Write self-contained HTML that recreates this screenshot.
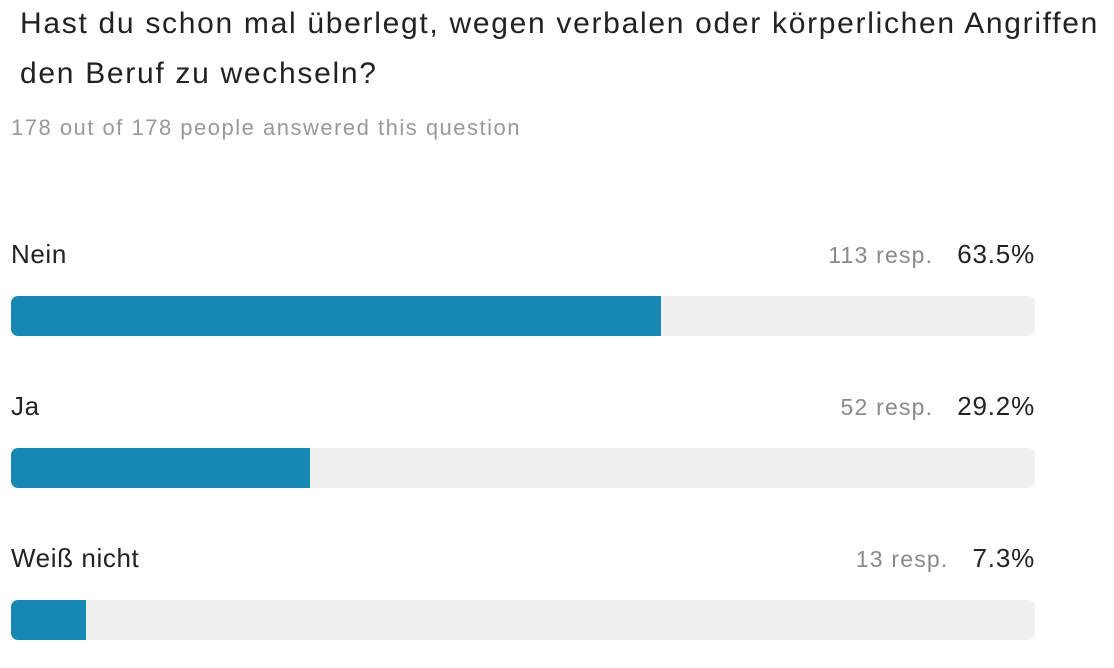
<!DOCTYPE html>
<html><head><meta charset="utf-8"><style>
body{margin:0;width:1114px;height:668px;background:#fff;font-family:"Liberation Sans",sans-serif;position:relative;overflow:hidden;color:#2b2b2b}
.t{position:absolute;left:20px;top:-1px;font-size:30px;letter-spacing:1.7px;line-height:50px;color:#222;white-space:nowrap}
.s{position:absolute;left:11px;top:115px;font-size:22px;letter-spacing:1.5px;color:#999;white-space:nowrap}
.l{position:absolute;left:11px;font-size:26px;letter-spacing:0.6px;color:#222}
.r{position:absolute;right:79px;font-size:26px;letter-spacing:0.8px;color:#222;text-align:right;white-space:nowrap}
.r span{color:#8a8a8a;font-size:23px;letter-spacing:1.2px;margin-right:24px}
.b{position:absolute;left:11px;width:1024px;height:40px;background:#f0f0f0;border-radius:7px;overflow:hidden}
.b div{height:100%;background:#1788b1}
</style></head><body>
<div class="t">Hast du schon mal überlegt, wegen verbalen oder körperlichen Angriffen<br>den Beruf zu wechseln?</div>
<div class="s">178 out of 178 people answered this question</div>
<div class="l" style="top:239px">Nein</div>
<div class="r" style="top:239px"><span>113 resp.</span>63.5%</div>
<div class="b" style="top:296px"><div style="width:650px"></div></div>
<div class="l" style="top:391px">Ja</div>
<div class="r" style="top:391px"><span>52 resp.</span>29.2%</div>
<div class="b" style="top:448px"><div style="width:299px"></div></div>
<div class="l" style="top:543px">Weiß nicht</div>
<div class="r" style="top:543px"><span>13 resp.</span>7.3%</div>
<div class="b" style="top:600px"><div style="width:75px"></div></div>
</body></html>
